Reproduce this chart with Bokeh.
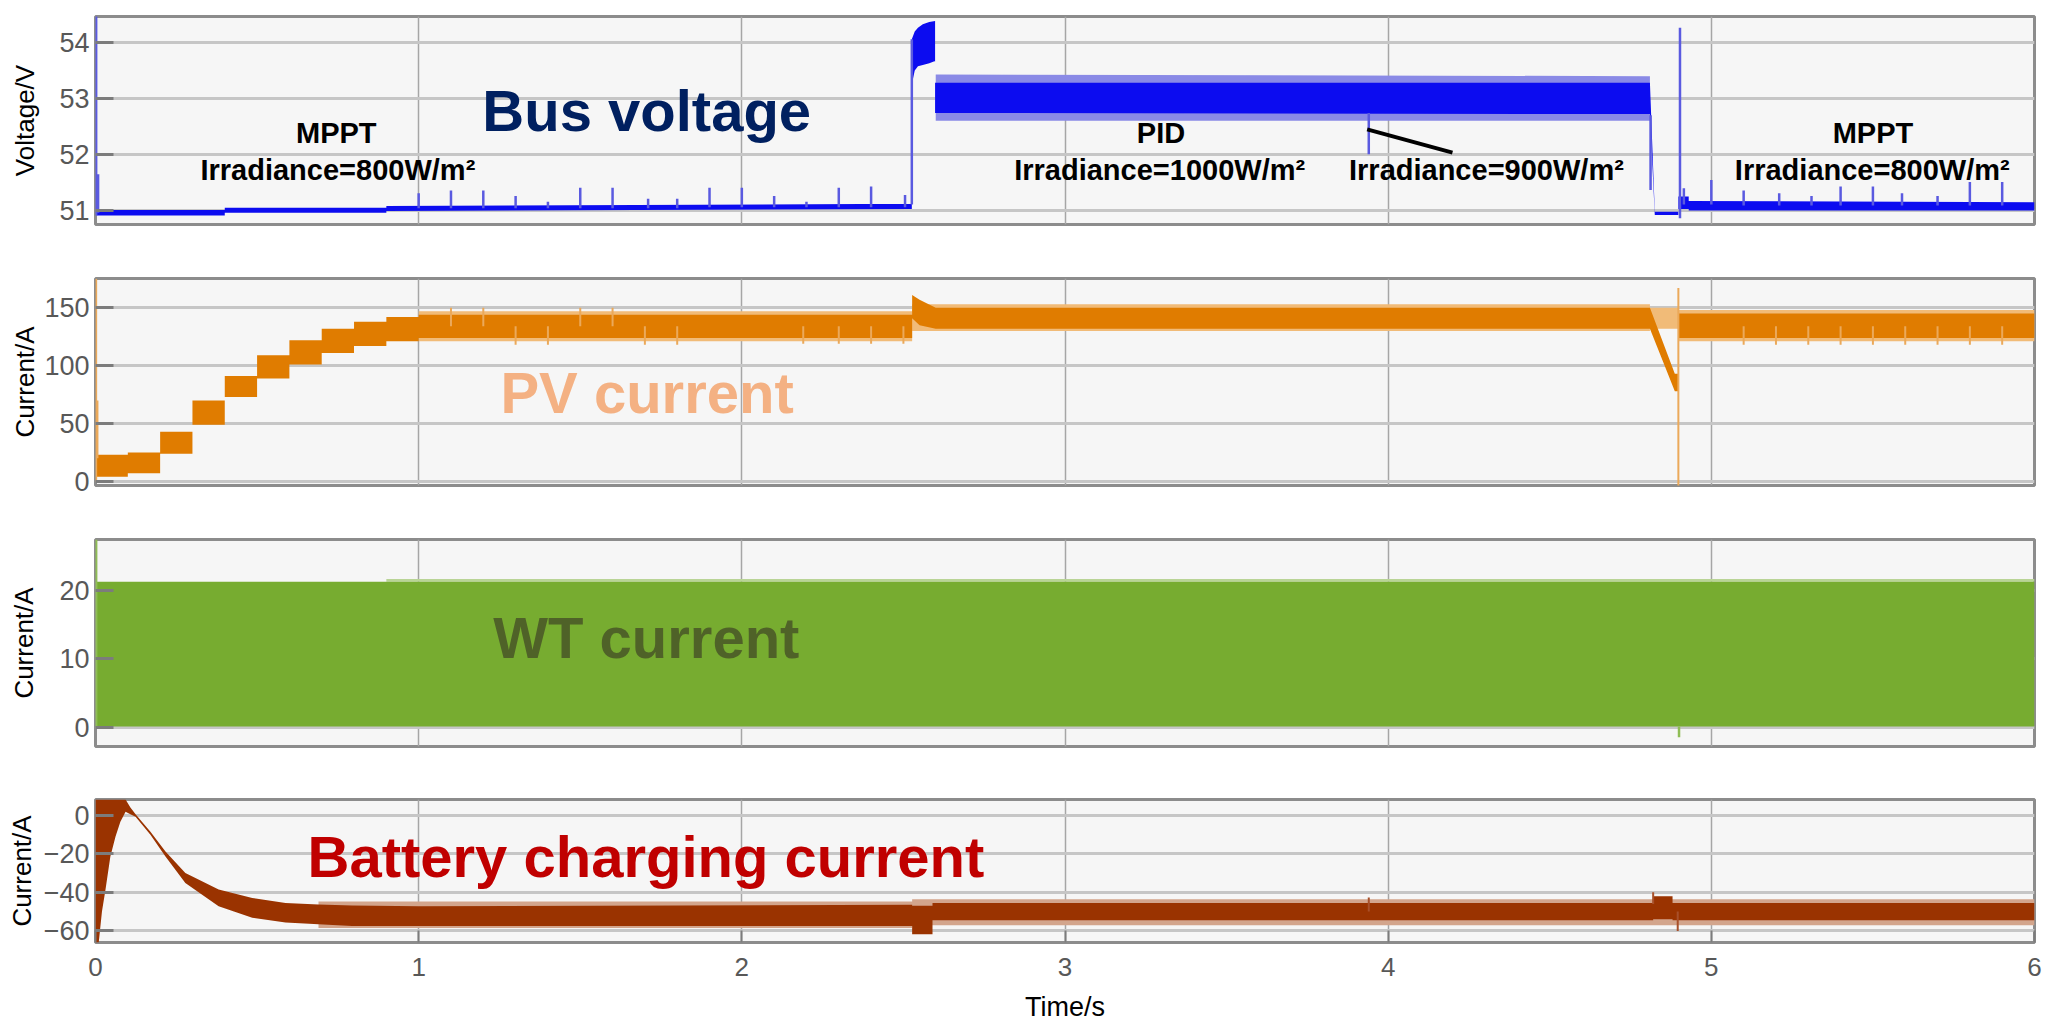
from bokeh.plotting import figure
from bokeh.models import Range1d, FixedTicker, Label
from bokeh.layouts import column
from bokeh.embed import file_html
from bokeh.resources import INLINE

# ---------------- data ----------------
time_ticks = [0, 1, 2, 3, 4, 5, 6]

# Panel 1: bus voltage envelope (V)
bus_t  = [0.004, 0.40, 0.40, 0.90, 0.90, 2.526, 2.526, 2.535, 2.545, 2.56, 2.58, 2.598, 2.598, 4.81, 4.825, 4.898, 4.898, 4.93, 4.93, 6.0]
bus_hi = [51.00, 51.00, 51.04, 51.04, 51.07, 51.11, 54.06, 54.20, 54.27, 54.33, 54.37, 54.39, 53.28, 53.28, 50.97, 50.97, 51.24, 51.24, 51.16, 51.14]
bus_lo = [50.90, 50.90, 50.95, 50.95, 50.98, 51.02, 53.25, 53.50, 53.58, 53.60, 53.63, 53.67, 52.74, 52.72, 50.91, 50.91, 51.02, 51.02, 50.99, 50.99]
bus_ripple_t  = [2.60, 4.81]
bus_ripple_hi = [53.43, 53.40]
bus_ripple_lo = [52.60, 52.60]
bus_spike_t    = [0.002, 0.008, 1.00, 1.10, 1.20, 1.30, 1.40, 1.50, 1.60, 1.71, 1.80, 1.90, 2.00, 2.10, 2.20, 2.30, 2.40, 2.505, 2.526, 3.94, 4.812, 4.903, 4.915, 5.00, 5.10, 5.21, 5.31, 5.40, 5.50, 5.59, 5.70, 5.80, 5.90]
bus_spike_from = [50.90, 50.95, 51.03, 51.03, 51.03, 51.03, 51.03, 51.03, 51.03, 51.03, 51.03, 51.05, 51.05, 51.05, 51.05, 51.05, 51.05, 51.05, 51.10, 52.74, 51.36, 50.85, 51.10, 51.10, 51.08, 51.08, 51.08, 51.08, 51.08, 51.08, 51.08, 51.08, 51.08]
bus_spike_to   = [54.50, 51.64, 51.30, 51.35, 51.35, 51.25, 51.15, 51.40, 51.40, 51.20, 51.20, 51.40, 51.40, 51.25, 51.15, 51.40, 51.42, 51.27, 54.06, 52.00, 52.70, 54.27, 51.39, 51.54, 51.35, 51.30, 51.25, 51.42, 51.42, 51.30, 51.25, 51.50, 51.50]

# Panel 2: PV current envelope (A)
pv_t  = [0.004, 0.10, 0.10, 0.20, 0.20, 0.30, 0.30, 0.40, 0.40, 0.50, 0.50, 0.60, 0.60, 0.70, 0.70, 0.80, 0.80, 0.90, 0.90, 1.00, 1.00, 2.527, 2.527, 2.55, 2.60, 4.81, 4.887, 4.897, 4.897, 6.0]
pv_hi = [23, 23, 25, 25, 43, 43, 70, 70, 91, 91, 109, 109, 122, 122, 132, 132, 138, 138, 142, 142, 144, 144, 161, 157, 150, 150, 93, 93, 145, 145]
pv_lo = [4, 4, 7, 7, 24, 24, 49, 49, 73, 73, 89, 89, 101, 101, 111, 111, 117, 117, 121, 121, 124, 124, 141, 135, 132, 132, 78, 78, 124, 124]
pv_ripple_t  = [1.0, 2.527, 2.527, 4.81, 4.81, 4.897, 4.897, 6.0]
pv_ripple_hi = [147, 147, 153, 153, 150, 150, 148, 148]
pv_ripple_lo = [121, 121, 130, 130, 132, 132, 121, 121]
pv_spike_t    = [0.002, 0.006, 1.10, 1.20, 1.30, 1.40, 1.50, 1.60, 1.70, 1.80, 2.19, 2.30, 2.40, 2.50, 4.898, 5.10, 5.20, 5.30, 5.40, 5.50, 5.60, 5.70, 5.80, 5.90]
pv_spike_from = [0, 20, 134, 134, 134, 134, 134, 134, 134, 134, 134, 134, 134, 134, -4, 134, 134, 134, 134, 134, 134, 134, 134, 134]
pv_spike_to   = [175, 70, 150, 150, 118, 118, 150, 150, 118, 118, 119, 119, 119, 119, 167, 118, 118, 118, 118, 118, 118, 118, 118, 118]

# Panel 3: WT current envelope (A)
wt_t  = [0.004, 6.0]
wt_hi = [21.3, 21.3]
wt_lo = [0.1, 0.1]
wt_ripple_t  = [0.9, 6.0]
wt_ripple_hi = [21.7, 21.7]
wt_spike_t    = [0.002, 4.90]
wt_spike_from = [0.0, 0.1]
wt_spike_to   = [27.5, -1.5]

# Panel 4: battery charging current envelope (A)
bat_t  = [0.0, 0.01, 0.02, 0.031, 0.046, 0.062, 0.077, 0.093, 0.108, 0.124, 0.17, 0.2165, 0.278, 0.381, 0.485, 0.588, 0.69, 0.794, 1.0, 2.527, 2.527, 2.59, 2.59, 4.82, 4.82, 4.88, 4.88, 6.0]
bat_hi = [8.1, 8.1, 8.1, 8.1, 8.1, 8.1, 8.1, 8.1, 4.0, 0.5, -8.6, -18.9, -30.0, -38.6, -42.9, -45.5, -46.3, -46.8, -47.2, -46.5, -47.0, -47.0, -45.5, -45.5, -42.0, -42.0, -45.5, -45.5]
bat_lo = [-66, -66, -50, -38.6, -21.4, -11.1, -3.4, 1.7, 0.5, -0.8, -10.2, -21.4, -35.2, -47.2, -53.2, -55.7, -56.6, -57.5, -57.5, -57.4, -61.7, -61.7, -54.5, -54.5, -54.0, -54.0, -54.5, -54.5]
bat_ripple_t  = [0.69, 2.527, 2.527, 6.0]
bat_ripple_hi = [-44.8, -44.8, -43.6, -43.6]
bat_ripple_lo = [-58.5, -58.5, -57.0, -57.0]
bat_spike_t    = [3.94, 4.82, 4.896]
bat_spike_from = [-50, -46, -50]
bat_spike_to   = [-42.7, -40, -60]

# ---------------- styling ----------------
FONT = "Liberation Sans"
BG = "#f6f6f6"
xr = Range1d(0, 6)


def make_fig(yr, height, top, bottom, yticks, ylabel, standoff, show_x=False):
    p = figure(width=2052, height=height, x_range=xr, y_range=Range1d(*yr),
               output_backend="svg", toolbar_location=None,
               min_border_left=95, min_border_right=18,
               min_border_top=top, min_border_bottom=bottom)
    p.background_fill_color = BG
    p.border_fill_color = "white"
    p.outline_line_color = "#8c8c8c"
    p.outline_line_width = 3
    p.yaxis.ticker = FixedTicker(ticks=yticks)
    p.xaxis.ticker = FixedTicker(ticks=time_ticks)
    p.ygrid.grid_line_color = "#c6c6c6"
    p.ygrid.grid_line_width = 3
    p.xgrid.grid_line_color = "#a6a6a6"
    p.xgrid.grid_line_width = 1.5
    for ax in p.yaxis:
        ax.axis_line_color = None
        ax.major_tick_in = 18
        ax.major_tick_out = 0
        ax.major_tick_line_color = "#7c7c7c"
        ax.major_tick_line_width = 3
        ax.minor_tick_line_color = None
        ax.major_label_text_font = FONT
        ax.major_label_text_font_size = "27px"
        ax.major_label_text_color = "#585858"
        ax.major_label_standoff = 6
        ax.axis_label = ylabel
        ax.axis_label_text_font = FONT
        ax.axis_label_text_font_size = "26px"
        ax.axis_label_text_font_style = "normal"
        ax.axis_label_text_color = "black"
        ax.axis_label_standoff = standoff
    if show_x:
        for ax in p.xaxis:
            ax.axis_line_color = None
            ax.major_tick_in = 12
            ax.major_tick_out = 0
            ax.major_tick_line_color = "#7c7c7c"
            ax.major_tick_line_width = 2
            ax.minor_tick_line_color = None
            ax.major_label_text_font = FONT
            ax.major_label_text_color = "#585858"
            ax.major_label_text_font_size = "26px"
            ax.major_label_standoff = 15
            ax.axis_label = "Time/s"
            ax.axis_label_text_font = FONT
            ax.axis_label_text_font_size = "27px"
            ax.axis_label_text_font_style = "normal"
            ax.axis_label_text_color = "black"
            ax.axis_label_standoff = 13
    else:
        p.xaxis.visible = False
    return p


def label(p, text, x, y, size, color, align="center"):
    p.add_layout(Label(x=x, y=y, text=text, text_font=FONT, text_font_size=size,
                       text_font_style="bold", text_color=color, text_align=align,
                       text_baseline="alphabetic"))


# Panel 1
p1 = make_fig((50.74, 54.47), 251, 16, 27, [51, 52, 53, 54], "Voltage/V", 16)
p1.varea(x=bus_ripple_t, y1=bus_ripple_lo, y2=bus_ripple_hi, fill_color="#8a8ae6")
p1.varea(x=bus_t, y1=bus_lo, y2=bus_hi, fill_color="#0c0cf0")
p1.segment(x0=bus_spike_t, y0=bus_spike_from, x1=bus_spike_t, y1=bus_spike_to,
           line_color="#5a5ae0", line_width=2.5)
p1.line(x=[3.935, 4.199], y=[52.446, 52.03], line_color="black", line_width=4)
label(p1, "Bus voltage", 1.197, 52.785, "58px", "#002060", "left")
label(p1, "MPPT", 0.745, 52.376, "29px", "black")
label(p1, "Irradiance=800W/m²", 0.75, 51.726, "29px", "black")
label(p1, "PID", 3.297, 52.376, "29px", "black")
label(p1, "Irradiance=1000W/m²", 3.293, 51.726, "29px", "black")
label(p1, "Irradiance=900W/m²", 4.304, 51.726, "29px", "black")
label(p1, "MPPT", 5.50, 52.376, "29px", "black")
label(p1, "Irradiance=800W/m²", 5.498, 51.726, "29px", "black")

# Panel 2
p2 = make_fig((-3.5, 175.3), 261, 27, 27, [0, 50, 100, 150], "Current/A", 1)
p2.varea(x=pv_ripple_t, y1=pv_ripple_lo, y2=pv_ripple_hi, fill_color="#f1bb78")
p2.varea(x=pv_t, y1=pv_lo, y2=pv_hi, fill_color="#e07c00")
p2.segment(x0=pv_spike_t, y0=pv_spike_from, x1=pv_spike_t, y1=pv_spike_to,
           line_color="#eba95a", line_width=2)
label(p2, "PV current", 1.253, 77.2, "58px", "#f4b183", "left")

# Panel 3
p3 = make_fig((-2.85, 27.5), 260, 27, 26, [0, 10, 20], "Current/A", 17)
p3.varea(x=wt_ripple_t, y1=wt_hi, y2=wt_ripple_hi, fill_color="#b9d496")
p3.varea(x=wt_t, y1=wt_lo, y2=wt_hi, fill_color="#77ac30")
p3.segment(x0=wt_spike_t, y0=wt_spike_from, x1=wt_spike_t, y1=wt_spike_to,
           line_color="#8fbd55", line_width=2.5)
label(p3, "WT current", 1.231, 13.06, "58px", "#4f6228", "left")

# Panel 4
p4 = make_fig((-66, 8.1), 253, 27, 83, [-60, -40, -20, 0], "Current/A", 4, show_x=True)
p4.varea(x=bat_ripple_t, y1=bat_ripple_lo, y2=bat_ripple_hi, fill_color="#d3a58c")
p4.varea(x=bat_t, y1=bat_lo, y2=bat_hi, fill_color="#9a3300")
p4.segment(x0=bat_spike_t, y0=bat_spike_from, x1=bat_spike_t, y1=bat_spike_to,
           line_color="#a8502a", line_width=2)
label(p4, "Battery charging current", 0.656, -21.3, "58px", "#c00000", "left")

layout = column(p1, p2, p3, p4, spacing=0)
open("out.html", "w").write(file_html(layout, INLINE))
